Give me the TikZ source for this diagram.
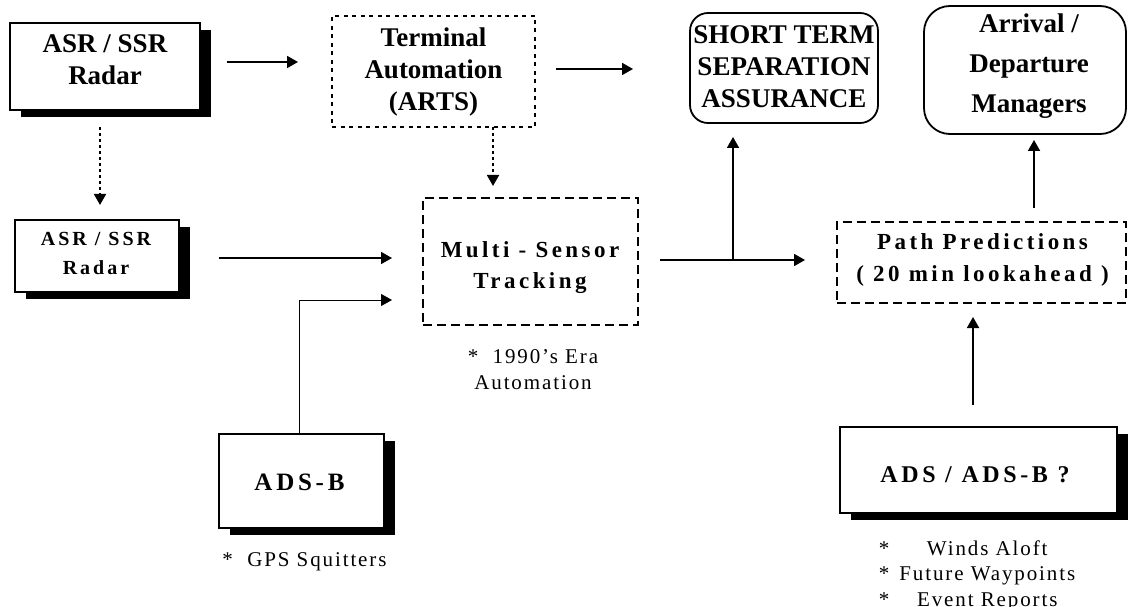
\documentclass[tikz,border=0pt]{standalone}
\usepackage{fontspec}
\setmainfont{Liberation Serif}
\newfontfamily\lsfont[LetterSpace=15]{Liberation Serif}
\newfontfamily\lsreg[LetterSpace=9]{Liberation Serif}
\usetikzlibrary{arrows.meta,shadows}
\tikzset{
  frame/.style={draw, line width=2pt, inner sep=0pt, outer sep=0pt},
  shadowed/.style={drop shadow={shadow xshift=11pt, shadow yshift=-7pt, opacity=1, fill=black}},
  dotbox/.style={draw, line width=1.8pt, dash pattern=on 4pt off 4.5pt, inner sep=0pt, outer sep=0pt},
  dashbox/.style={draw, line width=1.8pt, dash pattern=on 9pt off 5pt, inner sep=0pt, outer sep=0pt},
  roundbox/.style={draw, line width=1.8pt, inner sep=0pt, outer sep=0pt},
  arr/.style={-{Triangle[length=11pt,width=12pt]}, line width=1.8pt},
  thinarr/.style={-{Triangle[length=11pt,width=12pt]}, line width=1pt},
  dotarr/.style={arr, dash pattern=on 3pt off 3pt},
  bigtxt/.style={font=\fontsize{27}{32}\selectfont\bfseries, align=center, inner sep=0pt, anchor=base},
  sptxt/.style={font=\lsfont\bfseries\fontsize{23}{31}\selectfont, align=center, inner sep=0pt, anchor=base},
  captxt/.style={font=\lsreg\fontsize{21}{26}\selectfont, align=center, inner sep=0pt, anchor=base}
}
\begin{document}
\begin{tikzpicture}[x=1pt,y=-1pt]
\useasboundingbox (0,0) rectangle (1128,607);
% boxes
\node[frame, shadowed, fill=white, minimum width=190pt, minimum height=87pt] (radarA) at (105,66.5) {};
\node[dotbox, minimum width=203pt, minimum height=111pt] (arts) at (433.5,71.5) {};
\node[roundbox, rounded corners=18pt, minimum width=188pt, minimum height=110pt] (stsa) at (784,68) {};
\node[roundbox, rounded corners=26pt, minimum width=202pt, minimum height=128pt] (mgr) at (1025,70) {};
\node[frame, shadowed, fill=white, minimum width=164pt, minimum height=72pt] (radarB) at (97,256) {};
\node[dashbox, minimum width=215pt, minimum height=127pt] (multi) at (530.5,261.5) {};
\node[dashbox, minimum width=289pt, minimum height=81pt] (path) at (981.5,262.5) {};
\node[frame, shadowed, fill=white, minimum width=165pt, minimum height=94pt] (adsb) at (301.5,481) {};
\node[frame, shadowed, fill=white, minimum width=277pt, minimum height=86pt] (adsq) at (978.5,470) {};
% texts (anchor base = baseline of last line)
\node[bigtxt] (tA) at (105,85) {ASR / SSR\\Radar};
\node[bigtxt] (tArts) at (433.5,111) {Terminal\\Automation\\(ARTS)};
\node[bigtxt] (tStsa) at (784,108) {SHORT TERM\\SEPARATION\\ASSURANCE};
\node[bigtxt, font=\fontsize{27}{40}\selectfont\bfseries] (tMgr) at (1029,113) {Arrival /\\Departure\\Managers};
\node[sptxt, font=\lsfont\bfseries\fontsize{20}{29}\selectfont] (tB) at (96,274) {ASR / SSR\\Radar};
\node[sptxt] (tMulti) at (530,288) {Multi - Sensor\\Tracking};
\node[sptxt, font=\lsfont\bfseries\fontsize{23}{32}\selectfont] (tPath) at (982.5,281) {Path Predictions\\( 20 min lookahead )};
\node[sptxt, font=\lsfont\bfseries\fontsize{25}{30}\selectfont] (tAdsb) at (299.5,490) {ADS-B};
\node[sptxt, font=\lsfont\bfseries\fontsize{24}{30}\selectfont] (tAdsq) at (975,482) {ADS / ADS-B ?};
\node[captxt] (c1990) at (533,389) {*\ \ 1990’s Era\\Automation};
\node[captxt] (cGps) at (304.5,566) {*\ \ GPS Squitters};
\node[captxt, font=\lsreg\fontsize{21}{25.5}\selectfont, align=left] (cAds) at (977,581) {\begin{tabular}{@{}l@{\hspace{10pt}}c@{}}{*}&Winds Aloft\\ {*}&Future Waypoints\\ {*}&Event Reports\end{tabular}};
% connectors
\coordinate (br) at (733,260);
\draw[arr] ([xshift=27pt,yshift=4.5pt]radarA.east) -- ([xshift=-34pt,yshift=9.5pt]arts.west);
\draw[arr] ([xshift=21pt,yshift=2.5pt]arts.east) -- ([xshift=-57pt,yshift=-1pt]stsa.west);
\draw[dotarr] ([xshift=-5pt,yshift=-17pt]radarA.south) -- ([xshift=3pt,yshift=15pt]radarB.north);
\draw[dotarr] ([xshift=59.5pt]arts.south) -- ([xshift=-37.5pt,yshift=12pt]multi.north);
\draw[arr] ([xshift=40pt,yshift=-2pt]radarB.east) -- ([xshift=-31pt,yshift=3.5pt]multi.west);
\draw[thinarr] ([xshift=-2.5pt]adsb.north) |- ([xshift=-31pt,yshift=-38.5pt]multi.west);
\draw[arr] ([xshift=22pt,yshift=1.5pt]multi.east) -- ([xshift=-32pt,yshift=2.5pt]path.west);
\draw[arr] (br) -- ([xshift=-51pt,yshift=-14pt]stsa.south);
\draw[arr] ([xshift=52.5pt,yshift=14pt]path.north) -- ([xshift=9pt,yshift=-6pt]mgr.south);
\draw[arr] ([xshift=-5.5pt,yshift=22pt]adsq.north) -- ([xshift=-8.5pt,yshift=-14pt]path.south);
\end{tikzpicture}
\end{document}
